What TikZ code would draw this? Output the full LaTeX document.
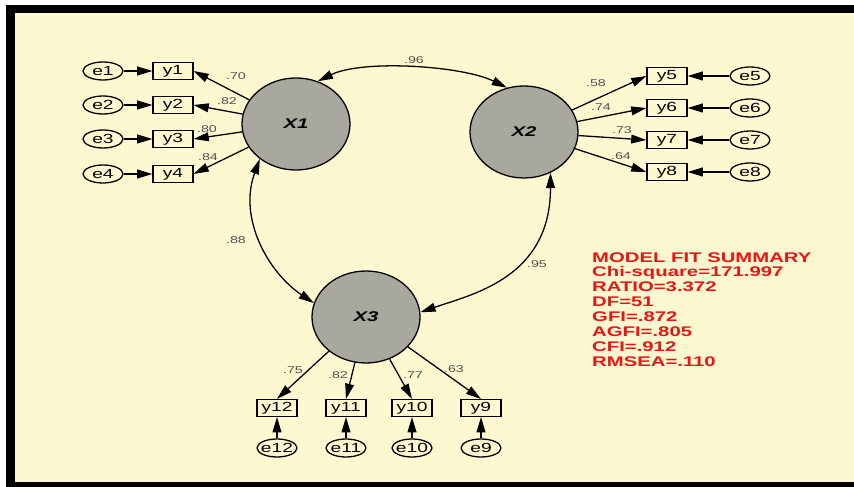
\documentclass[tikz,border=0pt]{standalone}
\usepackage{fontspec}
\setmainfont{Liberation Sans}[FakeStretch=1.45]
\usetikzlibrary{arrows.meta,shapes.geometric}
\definecolor{paper}{RGB}{254,248,208}
\definecolor{latentfill}{RGB}{168,168,158}
\definecolor{coefgray}{RGB}{80,80,80}
\definecolor{fitred}{RGB}{232,22,22}
\begin{document}
\begin{tikzpicture}[x=0.03cm,y=-0.03cm,
  >={Triangle[length=13pt,width=7.5pt]},
  link/.style={draw=black,line width=1.1pt,->},
  cov/.style={draw=black,line width=1.1pt,<->},
  latent/.style={ellipse,draw=black,line width=1.1pt,fill=latentfill,
    minimum width=3.24cm,minimum height=2.76cm,inner sep=0pt,
    font=\bfseries\itshape\fontsize{12}{14}\selectfont},
  observed/.style={rectangle,draw=black,line width=0.9pt,
    minimum width=1.2cm,minimum height=0.51cm,inner sep=0pt,
    font=\fontsize{11.3}{13}\selectfont},
  errterm/.style={ellipse,draw=black,line width=1.1pt,
    minimum width=1.2cm,minimum height=0.54cm,inner xsep=-1.8pt,inner ysep=0pt,
    font=\fontsize{11.3}{13}\selectfont},
  coef/.style={text=coefgray,inner sep=0pt,font=\fontsize{8.4}{10}\selectfont},
  fitbox/.style={text=fitred,inner sep=0pt,align=left,
    font=\bfseries\fontsize{11.95}{12.7}\selectfont}
]
% frame and background
\fill[white] (0,0) rectangle (854,487);
\fill[black] (6,5) rectangle (854,487);
\fill[paper] (15,13) rectangle (854,482);
\useasboundingbox (0,0) rectangle (854,487);

% latent factors
\node[latent] (X1) at (296,124) {X1};
\node[latent] (X2) at (524,132) {X2};
\node[latent] (X3) at (366,317) {X3};

% indicators of X1
\foreach \i/\yy in {1/71,2/105,3/139,4/174}{
  \node[observed] (y\i) at (173,\yy) {y\i};
  \node[errterm] (e\i) at (103,\yy) {e\i};
  \draw[link] (e\i) -- (y\i);
  \draw[link] (X1) -- (y\i.east);
}
% indicators of X2
\foreach \i/\yy in {5/76,6/108,7/140,8/172}{
  \node[observed] (y\i) at (667,\yy) {y\i};
  \node[errterm] (e\i) at (750,\yy) {e\i};
  \draw[link] (e\i) -- (y\i);
  \draw[link] (X2) -- (y\i.west);
}
% indicators of X3
\foreach \i/\xx in {12/277,11/346,10/412,9/481}{
  \node[observed] (y\i) at (\xx,408) {y\i};
  \node[errterm] (e\i) at (\xx,448) {e\i};
  \draw[link] (e\i) -- (y\i);
  \draw[link] (X3) -- (y\i.north);
}

% factor covariances
\draw[cov] (X1.63) .. controls +(45,-22) and +(-45,-22) .. (X2.111);
\draw[cov] (X1.224) .. controls +(-22,60) and +(-45,-30) .. (X3.165);
\draw[cov] (X2.303) .. controls +(0,105) and +(52,-18) .. (X3.5);

% standardized loadings
\node[coef] (l1) at (236,76) {.70};
\node[coef] (l2) at (227,101) {.82};
\node[coef] (l3) at (207,129) {.80};
\node[coef] (l4) at (208,157) {.84};
\node[coef] (l5) at (596,83) {.58};
\node[coef] (l6) at (601,107) {.74};
\node[coef] (l7) at (622,130) {.73};
\node[coef] (l8) at (621,156) {.64};
\node[coef] (l12) at (293,370) {.75};
\node[coef] (l11) at (338,375) {.82};
\node[coef] (l10) at (413,375) {.77};
\node[coef] (l9) at (454,369) {.63};
% correlations
\node[coef] (c12) at (414,60) {.96};
\node[coef] (c13) at (236,240) {.88};
\node[coef] (c23) at (537,264) {.95};

% fit indices
\node[fitbox,anchor=north west] (fit) at (592,252)
  {MODEL FIT SUMMARY\\Chi-square=171.997\\RATIO=3.372\\DF=51\\GFI=.872\\AGFI=.805\\CFI=.912\\RMSEA=.110};
\end{tikzpicture}
\end{document}
